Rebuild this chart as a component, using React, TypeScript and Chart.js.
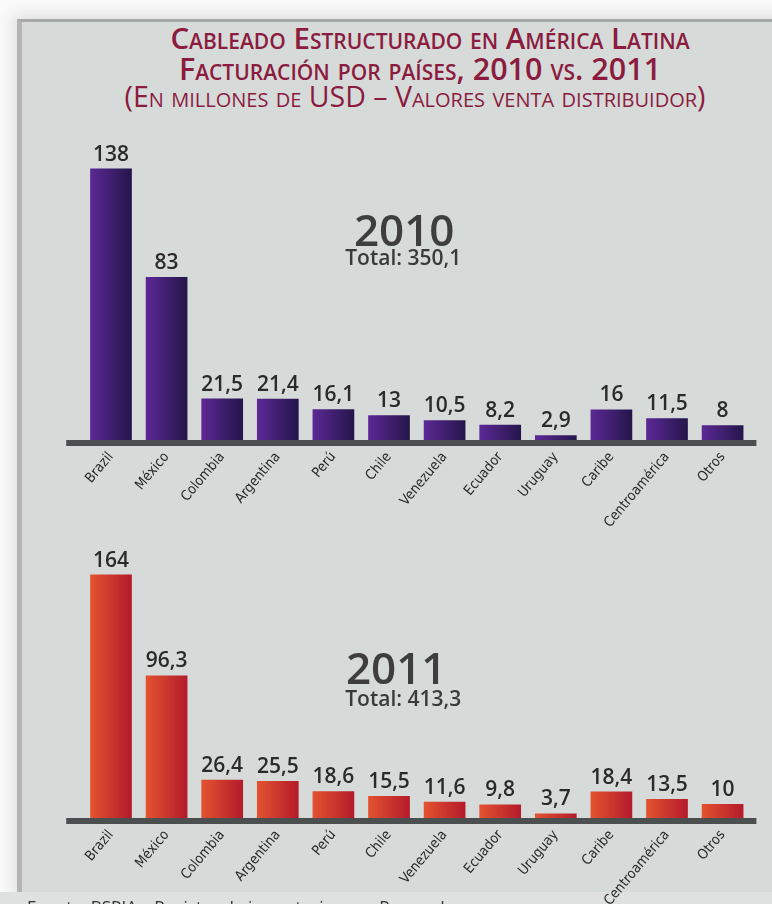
import React, { useEffect, useRef } from 'react';
import { Chart, registerables } from 'chart.js';

Chart.register(...registerables);

// ---------- DATA ----------
const categories = ['Brazil', 'México', 'Colombia', 'Argentina', 'Perú', 'Chile', 'Venezuela', 'Ecuador', 'Uruguay', 'Caribe', 'Centroamérica', 'Otros'];
const values2010 = [138, 83, 21.5, 21.4, 16.1, 13, 10.5, 8.2, 2.9, 16, 11.5, 8];
const values2011 = [164, 96.3, 26.4, 25.5, 18.6, 15.5, 11.6, 9.8, 3.7, 18.4, 13.5, 10];
const yearLabels = ['2010', '2011'];
const totalLabels = ['Total: 350,1', 'Total: 413,3'];
const titleLines = [
  'Cableado Estructurado en América Latina',
  'Facturación por países, 2010 vs. 2011',
  '(En millones de USD – Valores venta distribuidor)',
];
const sourceNote = 'Fuente: BSRIA – Registro de importaciones y Proveedores';

const fmt = (v: number) => String(v).replace('.', ',');

type Cfg = {
  values: number[];
  year: string;
  total: string;
  yMax: number;
  light: string;
  dark: string;
  yearDx: number;
  yearDy: number;
  totalDy: number;
};

function BarPanel({ cfg, top, height }: { cfg: Cfg; top: number; height: number }) {
  const ref = useRef<HTMLCanvasElement | null>(null);
  useEffect(() => {
    if (!ref.current) return;
    const decor = {
      id: 'decor',
      afterDatasetsDraw(chart: any) {
        const { ctx, chartArea, scales } = chart;
        const y0 = scales.y.getPixelForValue(0);
        ctx.save();
        // axis band
        ctx.fillStyle = '#4b4f4f';
        const bl = chartArea.left - 17;
        const br = chartArea.right + 6;
        ctx.fillRect(bl, y0 - 1, br - bl, 6);
        // value labels
        const meta = chart.getDatasetMeta(0);
        ctx.font = '600 21px "Open Sans"';
        ctx.fillStyle = '#2a2a2a';
        ctx.textAlign = 'center';
        ctx.textBaseline = 'alphabetic';
        meta.data.forEach((bar: any, i: number) => {
          ctx.fillText(fmt(cfg.values[i]), bar.x, bar.y - 8);
        });
        // year + total
        const cx = chartArea.left + cfg.yearDx;
        ctx.fillStyle = '#3e3e3e';
        ctx.font = '600 44px "Open Sans"';
        ctx.fillText(cfg.year, cx, chartArea.top + cfg.yearDy);
        ctx.font = '600 21px "Open Sans"';
        ctx.fillStyle = '#3a3a3a';
        ctx.fillText(cfg.total, chartArea.left + 320, chartArea.top + cfg.totalDy);
        ctx.restore();
      },
    };
    const chart = new Chart(ref.current, {
      type: 'bar',
      data: {
        labels: categories,
        datasets: [
          {
            data: cfg.values,
            backgroundColor: (c: any) => {
              const ch = c.chart;
              const xs = ch.scales && ch.scales.x;
              if (!xs || c.dataIndex === undefined) return cfg.dark;
              const cx = xs.getPixelForValue(c.dataIndex);
              const w = (xs.width / categories.length) * 0.75;
              if (!isFinite(cx) || !isFinite(w) || w <= 0) return cfg.dark;
              const g = ch.ctx.createLinearGradient(cx - w / 2, 0, cx + w / 2, 0);
              g.addColorStop(0, cfg.light);
              g.addColorStop(1, cfg.dark);
              return g;
            },
            borderWidth: 0,
            categoryPercentage: 1,
            barPercentage: 0.75,
          },
        ],
      },
      options: {
        animation: false,
        responsive: false,
        devicePixelRatio: 1,
        layout: { padding: { left: 61.2, right: 21.6, top: 10, bottom: 20 } },
        plugins: { legend: { display: false }, tooltip: { enabled: false }, title: { display: false } },
        scales: {
          x: {
            grid: { display: false, drawTicks: false },
            border: { display: false },
            ticks: {
              autoSkip: false,
              minRotation: 50,
              maxRotation: 50,
              padding: 8,
              color: '#2a2a2a',
              font: { family: '"DejaVu Sans Condensed", "Liberation Sans Narrow", "Roboto Condensed", Roboto, sans-serif', size: 14 },
            },
            afterFit: (s: any) => {
              s.height = 90;
            },
          },
          y: {
            display: false,
            min: 0,
            max: cfg.yMax,
            grid: { display: false },
          },
        },
      },
      plugins: [decor],
    });
    return () => chart.destroy();
  }, [cfg]);
  return (
    <canvas
      ref={ref}
      width={750}
      height={height}
      style={{ position: 'absolute', left: 22, top, width: 750, height }}
    />
  );
}

const cfg2010: Cfg = {
  values: values2010,
  year: yearLabels[0],
  total: totalLabels[0],
  yMax: 157.5,
  light: '#5c2896',
  dark: '#24164a',
  yearDx: 321,
  yearDy: 116,
  totalDy: 135,
};
const cfg2011: Cfg = {
  values: values2011,
  year: yearLabels[1],
  total: totalLabels[1],
  yMax: 180.5,
  light: '#e3532f',
  dark: '#b41a2b',
  yearDx: 313,
  yearDy: 134,
  totalDy: 156,
};

const titleStyle = (cx: number, top: number, size: number, weight: number): React.CSSProperties => ({
  position: 'absolute',
  left: cx - 380,
  width: 760,
  top,
  textAlign: 'center',
  fontFamily: '"Open Sans", sans-serif',
  fontVariant: 'small-caps',
  fontSize: size,
  lineHeight: `${size}px`,
  fontWeight: weight,
  color: '#8b1c3f',
  whiteSpace: 'nowrap',
});

export default function App() {
  return (
    <div
      style={{
        position: 'fixed',
        left: 0,
        top: 0,
        width: 772,
        height: 904,
        overflow: 'hidden',
        background: '#fafafa',
      }}
    >
      <div
        style={{
          position: 'absolute',
          left: 17,
          top: 19,
          width: 780,
          height: 870,
          background: '#d6dad9',
          borderTop: '3px solid #a8a8a8',
          borderLeft: '5px solid #b4b4b4',
          boxShadow: '0 0 14px 5px rgba(0,0,0,0.10)',
        }}
      />
      <div style={{ position: 'absolute', left: 0, top: 892, width: 772, height: 12, background: '#dfe1e1' }} />
      <div style={titleStyle(430, 23, 29.5, 600)}>{titleLines[0]}</div>
      <div style={titleStyle(420, 53, 30.5, 600)}>{titleLines[1]}</div>
      <div style={titleStyle(415, 81.7, 28.5, 400)}>{titleLines[2]}</div>
      <BarPanel cfg={cfg2010} top={120} height={431} />
      <BarPanel cfg={cfg2011} top={540} height={389} />
      <div
        style={{
          position: 'absolute',
          left: 27,
          top: 898,
          fontFamily: '"Open Sans", sans-serif',
          fontSize: 17,
          lineHeight: '17px',
          color: '#333',
          whiteSpace: 'nowrap',
        }}
      >
        {sourceNote}
      </div>
    </div>
  );
}
